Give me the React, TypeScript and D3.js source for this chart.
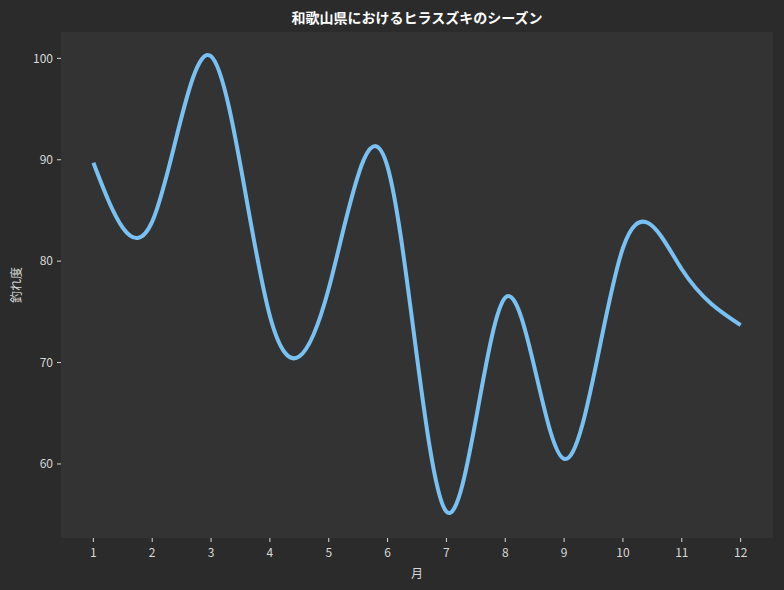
import React from "react";
import * as d3 from "d3";

const months = [1, 2, 3, 4, 5, 6, 7, 8, 9, 10, 11, 12];
const catchIndex = [89.7, 83.9, 100.2, 74.6, 77.3, 89.3, 55.3, 76.4, 60.5, 81.3, 79.2, 73.7];
const yTicks = [60, 70, 80, 90, 100];
const title = "和歌山県におけるヒラスズキのシーズン";
const xLabel = "月";
const yLabel = "釣れ度";

const W = 784, H = 590;
const M = { left: 61, right: 11, top: 32, bottom: 52 };
const FONT = "'Noto Sans CJK JP', 'Noto Sans', sans-serif";

export default function App() {
  const x = d3.scaleLinear().domain([0.45, 12.55]).range([M.left, W - M.right]);
  const y = d3.scaleLinear().domain([52.7, 102.6]).range([H - M.bottom, M.top]);
  const line = d3
    .line<number>()
    .x((_, i) => x(months[i]))
    .y((d) => y(d))
    .curve(d3.curveNatural);
  const cx = (M.left + W - M.right) / 2;
  return (
    <svg width={W} height={H} style={{ position: "absolute", left: 0, top: 0, background: "#2b2b2b" }}>
      <rect x={0} y={0} width={W} height={H} fill="#2b2b2b" />
      <rect x={M.left} y={M.top} width={W - M.left - M.right} height={H - M.top - M.bottom} fill="#333333" />
      <path d={line(catchIndex) || ""} fill="none" stroke="#78c1f2" strokeWidth={4} />
      {yTicks.map((t) => (
        <g key={t}>
          <line x1={M.left - 4} x2={M.left} y1={y(t)} y2={y(t)} stroke="#d8d8d8" strokeWidth={1} />
          <text x={M.left - 8} y={y(t)} dy="0.35em" textAnchor="end" fill="#d8d8d8" fontSize={12} fontFamily={FONT}>
            {t}
          </text>
        </g>
      ))}
      {months.map((m) => (
        <g key={m}>
          <line x1={x(m)} x2={x(m)} y1={H - M.bottom} y2={H - M.bottom + 4} stroke="#d8d8d8" strokeWidth={1} />
          <text x={x(m)} y={H - M.bottom + 19} textAnchor="middle" fill="#d8d8d8" fontSize={12} fontFamily={FONT}>
            {m}
          </text>
        </g>
      ))}
      <text x={cx} y={23} textAnchor="middle" fill="#ffffff" fontSize={14} fontWeight="bold" fontFamily={FONT}>
        {title}
      </text>
      <text x={cx} y={578} textAnchor="middle" fill="#d8d8d8" fontSize={12} fontFamily={FONT}>
        {xLabel}
      </text>
      <text
        transform={`translate(21, ${(M.top + H - M.bottom) / 2}) rotate(-90)`}
        textAnchor="middle"
        fill="#d8d8d8"
        fontSize={12}
        fontFamily={FONT}
      >
        {yLabel}
      </text>
    </svg>
  );
}
